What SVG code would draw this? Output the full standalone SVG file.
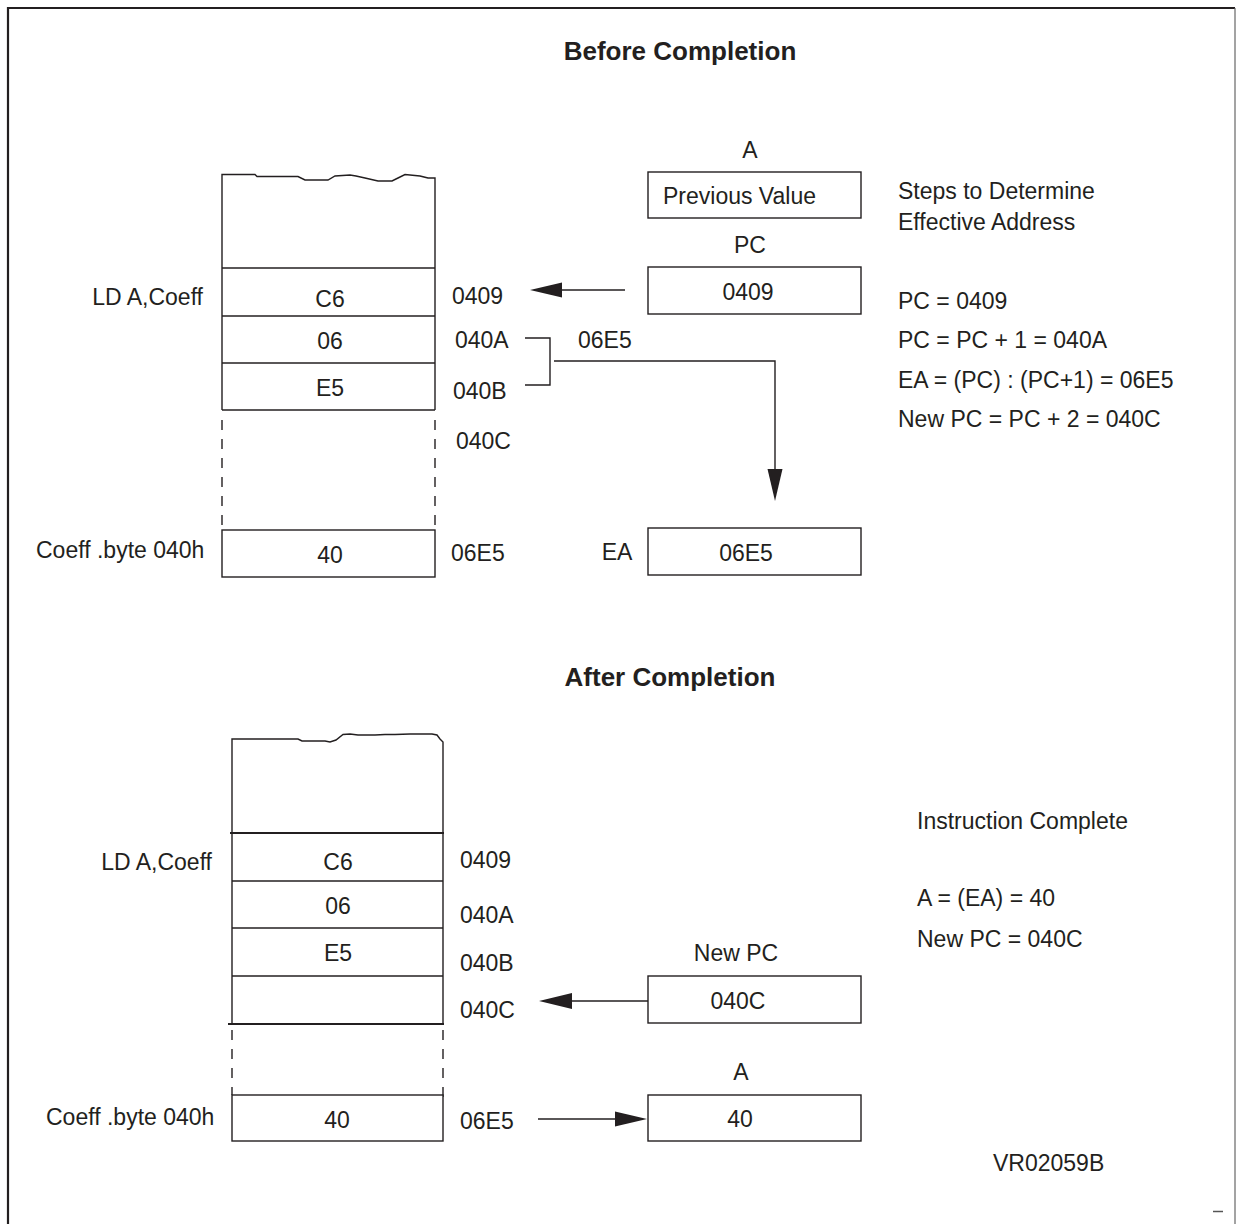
<svg xmlns="http://www.w3.org/2000/svg" width="1236" height="1224" viewBox="0 0 1236 1224">
<style>
text{font-family:"Liberation Sans",Arial,sans-serif;font-size:23px;fill:#231f20}
.t{font-weight:bold;font-size:26px}
.m{text-anchor:middle}
.e{text-anchor:end}
.ln{stroke:#231f20;stroke-width:1.4;fill:none}
.bx{stroke:#231f20;stroke-width:1.4;fill:#fff}
.dash{stroke:#231f20;stroke-width:1.4;stroke-dasharray:10 9;fill:none}
.thk{stroke:#231f20;stroke-width:2.2;fill:none}
.ah{fill:#231f20;stroke:none}
</style>
<rect width="1236" height="1224" fill="#fff"/>
<g id="frame">
<polyline points="8,1224 8,8 1235,8" fill="none" stroke="#231f20" stroke-width="2.2"/>
<line x1="1235" y1="8" x2="1235" y2="1224" stroke="#666" stroke-width="1.2"/>
<line x1="1213" y1="1211.5" x2="1223" y2="1211.5" stroke="#555" stroke-width="1.5"/>
</g>
<g id="titles">
<text class="t m" x="680" y="60">Before Completion</text>
<text class="t m" x="670" y="686">After Completion</text>
<text x="993" y="1171">VR02059B</text>
</g>
<g id="mem-before">
<path class="ln" d="M222,410 V174.5 H255 L257,176.5 H298 L305,180 H328 L335,176 L350,175 L356,176 L365,178 L378,181 H392 L398,178 L405,174.5 L420,176 L428,178 H435 V410"/>
<line class="ln" x1="222" y1="268" x2="435" y2="268"/>
<line class="ln" x1="222" y1="316" x2="435" y2="316"/>
<line class="ln" x1="222" y1="363" x2="435" y2="363"/>
<line class="ln" x1="222" y1="410" x2="435" y2="410"/>
<line class="dash" x1="222" y1="420" x2="222" y2="530"/>
<line class="dash" x1="435" y1="420" x2="435" y2="530"/>
<rect class="bx" x="222" y="530" width="213" height="47"/>
<text class="e" x="203" y="305">LD A,Coeff</text>
<text class="m" x="330" y="307">C6</text>
<text class="m" x="330" y="349">06</text>
<text class="m" x="330" y="396">E5</text>
<text class="m" x="330" y="563">40</text>
<text x="36" y="558">Coeff .byte 040h</text>
<text x="452" y="304">0409</text>
<text x="455" y="348">040A</text>
<text x="453" y="399">040B</text>
<text x="456" y="449">040C</text>
<text x="451" y="561">06E5</text>
</g>
<g id="reg-before">
<text class="m" x="750" y="158">A</text>
<rect class="bx" x="648" y="172" width="213" height="46"/>
<text x="663" y="204">Previous Value</text>
<text class="m" x="750" y="253">PC</text>
<rect class="bx" x="648" y="267" width="213" height="47"/>
<text class="m" x="748" y="300">0409</text>
<text class="m" x="617" y="560">EA</text>
<rect class="bx" x="648" y="528" width="213" height="47"/>
<text class="m" x="746" y="561">06E5</text>
</g>
<g id="steps">
<text x="898" y="199">Steps to Determine</text>
<text x="898" y="230">Effective Address</text>
<text x="898" y="309">PC = 0409</text>
<text x="898" y="348">PC = PC + 1 = 040A</text>
<text x="898" y="388">EA = (PC) : (PC+1) = 06E5</text>
<text x="898" y="427">New PC = PC + 2 = 040C</text>
</g>
<g id="mem-after">
<path class="ln" d="M232,1024 V739 H298 L302,741 H325 L330,742 L336,740 L343,734.5 L350,734 L358,735 H375 L385,734.5 H395 L410,734 H432 L437,735 L440,739 L443,742 V1024"/>
<line class="thk" x1="230" y1="833" x2="444" y2="833"/>
<line class="ln" x1="232" y1="881" x2="443" y2="881"/>
<line class="ln" x1="232" y1="928" x2="443" y2="928"/>
<line class="ln" x1="232" y1="976" x2="443" y2="976"/>
<line class="thk" x1="228" y1="1024" x2="444" y2="1024"/>
<line class="dash" x1="232" y1="1030" x2="232" y2="1095"/>
<line class="dash" x1="443" y1="1030" x2="443" y2="1104"/>
<rect class="bx" x="232" y="1095" width="211" height="46"/>
<text class="e" x="212" y="870">LD A,Coeff</text>
<text class="m" x="338" y="870">C6</text>
<text class="m" x="338" y="914">06</text>
<text class="m" x="338" y="961">E5</text>
<text class="m" x="337" y="1128">40</text>
<text x="46" y="1125">Coeff .byte 040h</text>
<text x="460" y="868">0409</text>
<text x="460" y="923">040A</text>
<text x="460" y="971">040B</text>
<text x="460" y="1018">040C</text>
<text x="460" y="1129">06E5</text>
</g>
<g id="reg-after">
<text class="m" x="736" y="961">New PC</text>
<rect class="bx" x="648" y="976" width="213" height="47"/>
<text class="m" x="738" y="1009">040C</text>
<text class="m" x="741" y="1080">A</text>
<rect class="bx" x="648" y="1095" width="213" height="46"/>
<text class="m" x="740" y="1127">40</text>
</g>
<g id="notes">
<text x="917" y="829">Instruction Complete</text>
<text x="917" y="906">A = (EA) = 40</text>
<text x="917" y="947">New PC = 040C</text>
</g>
<g id="connectors">
<line class="ln" x1="560" y1="290" x2="625" y2="290"/>
<polygon class="ah" points="530,290 562,282.5 562,297.5"/>
<polyline class="ln" points="525,338 550,338 550,385 525,385"/>
<text x="578" y="348">06E5</text>
<polyline class="ln" points="554,361 775,361 775,472"/>
<polygon class="ah" points="775,501 767.5,469 782.5,469"/>
<line class="ln" x1="570" y1="1001" x2="648" y2="1001"/>
<polygon class="ah" points="539,1001 572,993 572,1009"/>
<line class="ln" x1="538" y1="1119" x2="617" y2="1119"/>
<polygon class="ah" points="647,1119 615,1111.5 615,1126.5"/>
</g>
</svg>
